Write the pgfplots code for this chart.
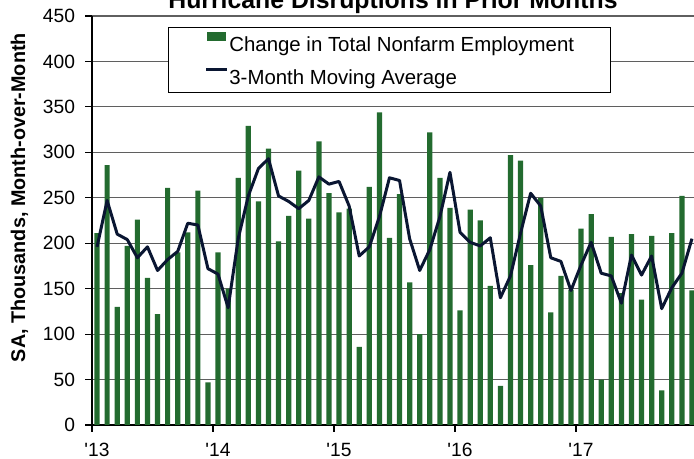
\documentclass[border=0pt]{standalone}
\usepackage{pgfplots}
\pgfplotsset{compat=1.18}
\usepackage{fontspec}
\setmainfont{Liberation Sans}
\definecolor{barg}{RGB}{35,107,47}
\definecolor{mav}{RGB}{10,22,50}
\definecolor{gridc}{RGB}{95,95,95}
\pgfplotstableread{
m chg ma
0 211 196
1 286 247
2 130 210
3 197 204
4 226 184
5 162 196
6 122 170
7 261 182
8 190 191
9 212 222
10 258 220
11 47 172
12 190 166
13 150 129
14 272 205
15 329 252
16 246 282
17 304 293
18 202 252
19 230 246
20 280 238
21 227 247
22 312 273
23 255 265
24 234 268
25 238 241
26 86 186
27 262 196
28 344 229
29 206 272
30 254 269
31 157 205
32 100 170
33 322 193
34 272 229
35 239 278
36 126 212
37 237 201
38 225 197
39 153 206
40 43 140
41 297 164
42 291 211
43 176 255
44 250 241
45 124 184
46 164 180
47 149 148
48 216 176
49 232 201
50 50 167
51 207 164
52 145 134
53 210 187
54 138 165
55 208 186
56 38 128
57 211 151
58 252 167
59 148 205
}\datatable
\begin{document}
\begin{tikzpicture}
\begin{axis}[
  scale only axis,
  width=302.5pt, height=204.5pt,
  xmin=-0.5, xmax=59.5,
  ymin=0, ymax=450,
  ytick={0,50,...,450},
  xtick={-0.5,11.5,23.5,35.5,47.5},
  xticklabels={\textquotesingle13,\textquotesingle14,\textquotesingle15,\textquotesingle16,\textquotesingle17},
  axis x line*=bottom, axis y line*=left,
  x axis line style={-, black, line width=0.6pt},
  y axis line style={-, black, line width=0.6pt},
  tick align=outside,
  major tick length=3.5pt,
  tick style={black, line width=0.6pt},
  ymajorgrids,
  major grid style={gridc, line width=0.6pt},
  /pgf/number format/assume math mode=true,
  ticklabel style={font=\fontsize{9.6}{11}\selectfont},
  yticklabel style={inner xsep=0pt, xshift=-4.8pt},
  xticklabel style={inner ysep=0pt, xshift=2.5pt, yshift=-5.5pt},
  title={Hurricane Disruptions in Prior Months},
  every axis title/.style={at={(axis description cs:0.4975,1)}, anchor=base, yshift=3.8pt, font=\bfseries\fontsize{12.4}{14}\selectfont},
  ylabel={SA, Thousands, Month-over-Month},
  every axis y label/.style={at={(axis description cs:-0.1107,0.556)}, rotate=90, anchor=base, font=\bfseries\fontsize{9.9}{12}\selectfont},
  legend style={at={(axis description cs:0.1261,0.9724)}, anchor=north west,
    draw=black, line width=0.6pt, fill=white,
    inner xsep=17.85pt, inner ysep=2.1pt,
    row sep=4.65pt, column sep=0pt,
    font=\fontsize{10.2}{12}\selectfont,
    nodes={inner xsep=0.4pt, inner ysep=0pt, text height=9.6pt, text depth=2.1pt}},
  legend cell align=left,
]
\addplot[ybar, bar width=0.52, bar shift=0pt, fill=barg, draw=none,
  legend image code/.code={\fill[barg] (0.5pt,1.3pt) rectangle (10pt,5.9pt);}]
  table[x=m, y=chg] {\datatable};
\addlegendentry{Change in Total Nonfarm Employment}
\addplot[sharp plot, mav, line width=1.5pt, line join=round, mark=none,
  legend image code/.code={\draw[mav, line width=1.5pt] (0pt,3.3pt) -- (10.5pt,3.3pt);}]
  table[x=m, y=ma] {\datatable};
\addlegendentry{3-Month Moving Average}
\end{axis}
\pgfresetboundingbox
\path[use as bounding box] ([shift={(-46pt,-17pt)}]current axis.south west) rectangle ([shift={(301pt,212.5pt)}]current axis.south west);
\end{tikzpicture}
\end{document}
